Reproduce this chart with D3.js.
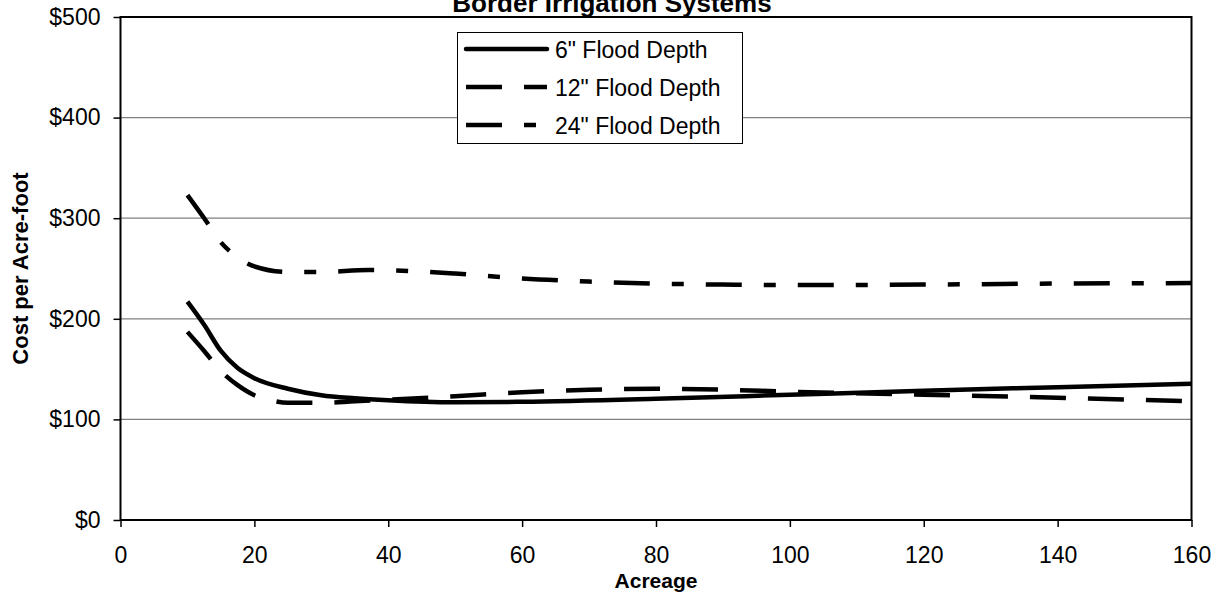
<!DOCTYPE html>
<html>
<head>
<meta charset="utf-8">
<script src="https://cdn.jsdelivr.net/npm/d3@7"></script>
<style>
  body { margin: 0; background: #fff; }
  text { font-family: "Liberation Sans", Arial, sans-serif; fill: #000; }
</style>
</head>
<body>
<div id="chart"></div>
<script>
const width = 1224,
  height = 599;

// values
const acreage6 = [10, 12.5, 15, 17.5, 20, 25, 30, 35, 40, 50, 60, 80, 100, 120, 140, 160];
const cost6 = [217, 194, 168, 151, 141, 130.5, 124, 121, 119, 117, 117.5, 120.5, 124.5, 128.5, 132, 135.5];

const acreage12 = [10, 12.5, 15, 17.5, 20, 22.5, 25, 30, 35, 40, 50, 60, 70, 80, 90, 100, 120, 140, 160];
const cost12 = [187, 168, 148, 134, 124, 119, 116.5, 116.5, 118, 119.5, 123, 127, 129.5, 130.5, 129.5, 127.5, 124.5, 121.5, 118];

const acreage24 = [10, 12.5, 15, 17.5, 20, 25, 30, 37, 45, 50, 60, 70, 80, 90, 100, 120, 140, 160];
const cost24 = [323, 300, 276, 261, 252, 246.5, 246.5, 248.5, 247, 245, 240, 237, 235, 234, 233.5, 234, 235, 235.5];

const seriesNames = ['6" Flood Depth', '12" Flood Depth', '24" Flood Depth'];
const xTicks = [0, 20, 40, 60, 80, 100, 120, 140, 160];
const yTicks = [0, 100, 200, 300, 400, 500];

const dashes = [null, "36,22", "36,22,12,22"];

const plot = { left: 120.5, right: 1191.5, top: 17, bottom: 520 };

const x = d3.scaleLinear().domain([0, 160]).range([plot.left, plot.right]);
const y = d3.scaleLinear().domain([0, 500]).range([plot.bottom, plot.top]);

const svg = d3
  .select("#chart")
  .append("svg")
  .attr("width", width)
  .attr("height", height);

// title sits right on the top edge, like the original
svg
  .append("text")
  .attr("x", 612)
  .attr("y", 12)
  .attr("text-anchor", "middle")
  .style("font-size", "26px")
  .style("font-weight", "bold")
  .text("Border Irrigation Systems");

// gridlines
svg
  .append("g")
  .selectAll("line")
  .data(yTicks.filter((d) => d > 0 && d < 500))
  .enter()
  .append("line")
  .attr("x1", plot.left)
  .attr("x2", plot.right)
  .attr("y1", (d) => y(d))
  .attr("y2", (d) => y(d))
  .attr("stroke", "#808080")
  .attr("stroke-width", 1.2);

// axes
const yAxis = svg
  .append("g")
  .attr("transform", `translate(${plot.left},0)`)
  .call(
    d3.axisLeft(y)
      .tickValues(yTicks)
      .tickFormat((d) => "$" + d)
      .tickSize(7)
      .tickPadding(13)
  );

const xAxis = svg
  .append("g")
  .attr("transform", `translate(0,${plot.bottom})`)
  .call(d3.axisBottom(x).tickValues(xTicks).tickSize(7).tickPadding(20));

[yAxis, xAxis].forEach((g) => {
  g.select(".domain").remove();
  g.selectAll(".tick line").attr("stroke", "#000").attr("stroke-width", 1.5);
  g.selectAll(".tick text")
    .style("font-size", "23px")
    .style("font-family", '"Liberation Sans", Arial, sans-serif')
    .attr("fill", "#000");
});

// plot frame
svg
  .append("rect")
  .attr("x", plot.left)
  .attr("y", plot.top)
  .attr("width", plot.right - plot.left)
  .attr("height", plot.bottom - plot.top)
  .attr("fill", "none")
  .attr("stroke", "#000")
  .attr("stroke-width", 2);

// axis titles
svg
  .append("text")
  .attr("x", x(80))
  .attr("y", 588)
  .attr("text-anchor", "middle")
  .style("font-size", "21px")
  .style("font-weight", "bold")
  .text("Acreage");

svg
  .append("text")
  .attr("transform", `translate(28,${(plot.top + plot.bottom) / 2}) rotate(-90)`)
  .attr("text-anchor", "middle")
  .style("font-size", "22px")
  .style("font-weight", "bold")
  .text("Cost per Acre-foot");

// lines
const line = d3
  .line()
  .x((d) => x(d[0]))
  .y((d) => y(d[1]))
  .curve(d3.curveMonotoneX);

const series = [
  d3.zip(acreage6, cost6),
  d3.zip(acreage12, cost12),
  d3.zip(acreage24, cost24),
];

svg
  .append("g")
  .selectAll("path")
  .data(series)
  .enter()
  .append("path")
  .attr("d", line)
  .attr("fill", "none")
  .attr("stroke", "#000")
  .attr("stroke-width", 4.5)
  .attr("stroke-dasharray", (d, i) => dashes[i]);

// legend
const legend = svg.append("g");

legend
  .append("rect")
  .attr("x", 457.5)
  .attr("y", 32.5)
  .attr("width", 285)
  .attr("height", 111)
  .attr("fill", "#fff")
  .attr("stroke", "#000")
  .attr("stroke-width", 1);

const rows = legend
  .selectAll(".row")
  .data(seriesNames)
  .enter()
  .append("g")
  .attr("class", "row")
  .attr("transform", (d, i) => `translate(0,${49 + i * 38})`);

rows
  .append("line")
  .attr("x1", 466)
  .attr("x2", 547)
  .attr("stroke", "#000")
  .attr("stroke-width", 4.5)
  .attr("stroke-linecap", (d, i) => (i === 0 ? "round" : "butt"))
  .attr("stroke-dasharray", (d, i) => dashes[i]);

rows
  .append("text")
  .attr("x", 555)
  .attr("y", 9)
  .style("font-size", "23px")
  .text((d) => d);
</script>
</body>
</html>
